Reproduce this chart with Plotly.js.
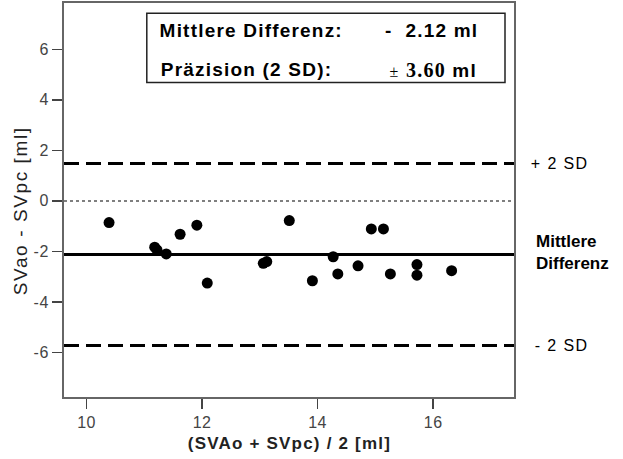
<!DOCTYPE html>
<html>
<head>
<meta charset="utf-8">
<script src="https://cdn.plot.ly/plotly-3.0.1.min.js"></script>
<style>
  html, body { margin: 0; padding: 0; background: #fff; }
  #chart { width: 623px; height: 459px; }
  /* wider glyph spacing, as in classic screen-hinted Arial */
  #chart .xtick text, #chart .ytick text { letter-spacing: 0.5px; }
  #chart .annotation[data-index="0"] text { letter-spacing: 1.6px; }
  #chart .annotation[data-index="1"] text { letter-spacing: 1.2px; }
  #chart .annotation[data-index="2"] text,
  #chart .annotation[data-index="3"] text,
  #chart .annotation[data-index="4"] text,
  #chart .annotation[data-index="5"] text { letter-spacing: 1.2px; }
  #chart .annotation[data-index="6"] text,
  #chart .annotation[data-index="8"] text { letter-spacing: 1.4px; }
</style>
</head>
<body>
<div id="chart"></div>
<script>
// Bland-Altman comparison: SVAo vs SVpc
const meanVals = [10.39, 11.18, 11.22, 11.38, 11.62, 11.91, 12.09, 13.06, 13.12, 13.51,
                  13.91, 14.27, 14.35, 14.70, 14.93, 15.14, 15.26, 15.72, 15.72, 16.32];
const diffVals = [-0.86, -1.83, -1.94, -2.10, -1.32, -0.96, -3.25, -2.47, -2.40, -0.78,
                  -3.16, -2.21, -2.89, -2.57, -1.11, -1.11, -2.89, -2.52, -2.94, -2.76];

const meanDiff = -2.12;   // Mittlere Differenz
const precision = 3.60;   // 2 SD
const upperLimit = meanDiff + precision;
const lowerLimit = meanDiff - precision;

const xTicks = [10, 12, 14, 16];
const yTicks = [-6, -4, -2, 0, 2, 4, 6];

const fontSans = 'Arial, "Liberation Sans", sans-serif';
const fontSerif = "'Times New Roman', 'Liberation Serif', serif";

const trace = {
  x: meanVals,
  y: diffVals,
  type: 'scatter',
  mode: 'markers',
  marker: { color: '#000', size: 11 },
  hoverinfo: 'x+y',
  showlegend: false
};

function hLine(y, dash, width, color) {
  return {
    type: 'line', xref: 'paper', x0: 0, x1: 1, yref: 'y', y0: y, y1: y,
    line: { color: color, width: width, dash: dash }, layer: 'above'
  };
}

// order matters: the stylesheet addresses annotations by index
const annotations = [
  // 0: y-axis title
  { xref: 'paper', yref: 'paper', x: 0, y: 0.471, xshift: -44, xanchor: 'center', yanchor: 'middle',
    textangle: -90, showarrow: false,
    text: 'SVao - SVpc [ml]', font: { size: 19, family: fontSans, color: '#222' } },
  // 1: x-axis title
  { xref: 'paper', yref: 'paper', x: 0.5, y: -0.119, xanchor: 'center', yanchor: 'middle',
    showarrow: false,
    text: '<b>(SVAo + SVpc) / 2 [ml]</b>', font: { size: 17, family: fontSans, color: '#222' } },
  // 2-5: summary box text
  { xref: 'paper', yref: 'paper', x: 0.2333, y: 0.93, xanchor: 'left', yanchor: 'middle', showarrow: false,
    text: '<b>Mittlere Differenz:</b>', font: { size: 19, family: fontSans, color: '#000' } },
  { xref: 'paper', yref: 'paper', x: 0.911, y: 0.93, xanchor: 'right', yanchor: 'middle', showarrow: false,
    text: '<b>-  ' + Math.abs(meanDiff).toFixed(2) + ' ml</b>', font: { size: 19, family: fontSans, color: '#000' } },
  { xref: 'paper', yref: 'paper', x: 0.2333, y: 0.831, xanchor: 'left', yanchor: 'middle', showarrow: false,
    text: '<b>Präzision (2 SD):</b>', font: { size: 19, family: fontSans, color: '#000' } },
  { xref: 'paper', yref: 'paper', x: 0.911, y: 0.831, xanchor: 'right', yanchor: 'middle', showarrow: false,
    text: '<span style="font-family:' + fontSerif + ';font-size:16px">±</span> ' +
          '<span style="font-family:' + fontSerif + ';font-size:20px"><b>' + precision.toFixed(2) + '</b></span> <b>ml</b>',
    font: { size: 19, family: fontSans, color: '#000' } },
  // 6-8: limit labels
  { xref: 'paper', yref: 'y', x: 1, y: upperLimit, xanchor: 'left', yanchor: 'middle', xshift: 19, showarrow: false,
    text: '+ 2 SD', font: { size: 16, family: fontSans, color: '#000' } },
  { xref: 'paper', yref: 'y', x: 1, y: meanDiff, yshift: 2, xanchor: 'left', yanchor: 'middle', xshift: 20,
    showarrow: false, align: 'left',
    text: '<b>Mittlere<br>Differenz</b>', font: { size: 17, family: fontSans, color: '#000' } },
  { xref: 'paper', yref: 'y', x: 1, y: lowerLimit, xanchor: 'left', yanchor: 'middle', xshift: 23, showarrow: false,
    text: '- 2 SD', font: { size: 16, family: fontSans, color: '#000' } }
];

const layout = {
  width: 623,
  height: 459,
  margin: { l: 64, r: 109, t: 3, b: 62 },
  paper_bgcolor: '#fff',
  plot_bgcolor: '#fff',
  font: { family: fontSans, color: '#000' },
  xaxis: {
    range: [9.61, 17.40],
    tickvals: xTicks,
    ticktext: xTicks.map(String),
    ticks: 'outside', ticklen: 10, tickwidth: 1.5, tickcolor: '#444',
    tickfont: { size: 16, color: '#444', family: fontSans },
    showgrid: false, zeroline: false,
    showline: true, linecolor: '#666', linewidth: 2, mirror: true
  },
  yaxis: {
    range: [-7.76, 7.83],
    tickvals: yTicks,
    ticktext: yTicks.map(String),
    ticks: 'outside', ticklen: 10, tickwidth: 1.5, tickcolor: '#444',
    tickfont: { size: 16, color: '#444', family: fontSans },
    showgrid: false, zeroline: false,
    showline: true, linecolor: '#666', linewidth: 2, mirror: true
  },
  shapes: [
    hLine(0, 'dot', 1.5, '#555'),
    hLine(meanDiff, 'solid', 3, '#000'),
    hLine(upperLimit, '15px,7px', 3, '#000'),
    hLine(lowerLimit, '15px,7px', 3, '#000'),
    // summary box
    { type: 'rect', xref: 'paper', yref: 'paper', x0: 0.184, x1: 0.98, y0: 0.798, y1: 0.974,
      line: { color: '#222', width: 1.5 }, fillcolor: '#fff', layer: 'above' }
  ],
  annotations: annotations
};

Plotly.newPlot('chart', [trace], layout, { displayModeBar: false, staticPlot: true });
</script>
</body>
</html>
